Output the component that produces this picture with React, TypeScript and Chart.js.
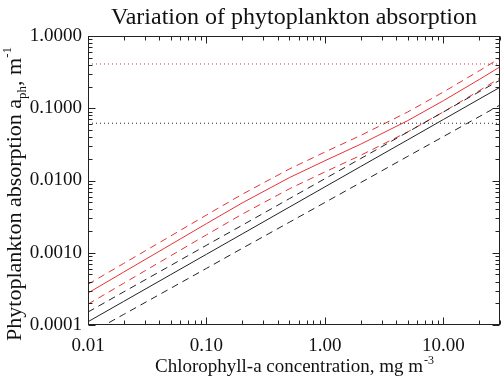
import React, { useEffect, useRef } from 'react';
import { Chart, registerables } from 'chart.js';

Chart.register(...registerables);

// Chlorophyll-a concentration (mg m^-3)
const chlValues = [0.01, 0.02, 0.05, 0.1, 0.2, 0.5, 1, 2, 5, 10, 20, 30];

// Phytoplankton absorption (m^-1)
const redMean = [2.77e-4, 5.4e-4, 1.3e-3, 2.53e-3, 4.89e-3, 0.01094, 0.0188, 0.0318, 0.0675, 0.1274, 0.2495, 0.374];
const redUpper = [3.66e-4, 7.11e-4, 1.71e-3, 3.33e-3, 6.44e-3, 0.01442, 0.02477, 0.042, 0.0889, 0.168, 0.329, 0.493];
const redLower = [1.94e-4, 3.78e-4, 9.1e-4, 1.77e-3, 3.42e-3, 7.66e-3, 0.01315, 0.0223, 0.0472, 0.0891, 0.1746, 0.262];
const blackMean = [1.11e-4, 2.12e-4, 4.99e-4, 9.53e-4, 1.82e-3, 4.28e-3, 8.17e-3, 0.0156, 0.0366, 0.07, 0.1337, 0.195];
const blackUpper = [1.51e-4, 2.87e-4, 6.68e-4, 1.27e-3, 2.4e-3, 5.6e-3, 0.0106, 0.0201, 0.0469, 0.0889, 0.169, 0.245];
const blackLower = [7.45e-5, 1.4e-4, 3.23e-4, 6.08e-4, 1.15e-3, 2.64e-3, 4.97e-3, 9.35e-3, 0.0216, 0.0406, 0.0764, 0.111];

// Horizontal reference levels
const redLevel = 0.41;
const blackLevel = 0.062;

// Axis ranges and labelled ticks
const xRange = [0.01, 30];
const yRange = [0.0001, 1];
const xTickValues = [0.01, 0.1, 1, 10];
const xTickLabels = ['0.01', '0.10', '1.00', '10.00'];
const yTickValues = [0.0001, 0.001, 0.01, 0.1, 1];
const yTickLabels = ['0.0001', '0.0010', '0.0100', '0.1000', '1.0000'];

const titleText = 'Variation of phytoplankton absorption';
const FONT = '"Liberation Serif", "Times New Roman", serif';
const RED = 'rgb(232, 50, 50)';
const BLACK = '#222222';

function labelFor(value: number, values: number[], labels: string[]) {
  for (let i = 0; i < values.length; i++) {
    if (Math.abs(value - values[i]) <= values[i] * 1e-6) return labels[i];
  }
  return '';
}

function pts(ys: number[]) {
  return chlValues.map((x, i) => ({ x, y: ys[i] }));
}

const decorPlugin = {
  id: 'decor',
  afterDraw(chart: any) {
    const { ctx, chartArea: a, scales } = chart;
    const xs = scales.x;
    const ys = scales.y;
    ctx.save();
    ctx.strokeStyle = BLACK;
    ctx.lineWidth = 1;
    ctx.setLineDash([]);
    const L = Math.round(a.left) + 0.5;
    const R = Math.round(a.right) - 0.5;
    const T = Math.round(a.top) + 0.5;
    const B = Math.round(a.bottom) - 0.5;
    ctx.strokeRect(L, T, R - L, B - T);
    ctx.beginPath();
    for (let d = -2; d <= 1; d++) {
      for (let m = 1; m <= 9; m++) {
        const v = m * Math.pow(10, d);
        if (v < xRange[0] * 0.9999 || v > xRange[1] * 1.0001) continue;
        const p = Math.round(xs.getPixelForValue(v)) + 0.5;
        const len = m === 1 ? 7 : 4;
        ctx.moveTo(p, B); ctx.lineTo(p, B - len);
        ctx.moveTo(p, T); ctx.lineTo(p, T + len);
      }
    }
    for (let d = -4; d <= 0; d++) {
      for (let m = 1; m <= 9; m++) {
        const v = m * Math.pow(10, d);
        if (v < yRange[0] * 0.9999 || v > yRange[1] * 1.0001) continue;
        const p = Math.round(ys.getPixelForValue(v)) + 0.5;
        const len = m === 1 ? 7 : 4;
        ctx.moveTo(L, p); ctx.lineTo(L + len, p);
        ctx.moveTo(R, p); ctx.lineTo(R - len, p);
      }
    }
    ctx.stroke();

    const cx = (a.left + a.right) / 2;
    ctx.fillStyle = '#111';
    // Title
    ctx.font = `24px ${FONT}`;
    ctx.textAlign = 'center';
    ctx.textBaseline = 'alphabetic';
    ctx.fillText(titleText, cx, 24);

    // X axis title with superscript
    ctx.textAlign = 'left';
    const xMain = 'Chlorophyll-a concentration, mg m';
    const xSup = '-3';
    ctx.font = `19px ${FONT}`;
    const w1 = ctx.measureText(xMain).width;
    ctx.font = `12px ${FONT}`;
    const w2 = ctx.measureText(xSup).width;
    const x0 = cx - (w1 + w2) / 2;
    ctx.font = `19px ${FONT}`;
    ctx.fillText(xMain, x0, 372);
    ctx.font = `12px ${FONT}`;
    ctx.fillText(xSup, x0 + w1 + 1, 364);

    // Y axis title, rotated, with subscript and superscript
    const segs = [
      { t: 'Phytoplankton absorption a', size: 22, dy: 0 },
      { t: 'ph', size: 13, dy: 5 },
      { t: ', m', size: 22, dy: 0 },
      { t: '-1', size: 13, dy: -10 },
    ];
    let total = 0;
    const widths: number[] = [];
    for (const s of segs) {
      ctx.font = `${s.size}px ${FONT}`;
      const w = ctx.measureText(s.t).width;
      widths.push(w);
      total += w;
    }
    ctx.translate(21, 194);
    ctx.rotate(-Math.PI / 2);
    let px = -total / 2;
    segs.forEach((s, i) => {
      ctx.font = `${s.size}px ${FONT}`;
      ctx.fillText(s.t, px, s.dy);
      px += widths[i];
    });
    ctx.restore();
  },
};

export default function App() {
  const ref = useRef<HTMLCanvasElement | null>(null);
  useEffect(() => {
    if (!ref.current) return;
    const lineDs = (label: string, data: number[], color: string, dash: number[]) => ({
      label,
      data: pts(data),
      borderColor: color,
      borderWidth: 1,
      borderDash: dash,
      pointRadius: 0,
      fill: false,
      tension: 0,
    });
    const chart = new Chart(ref.current, {
      type: 'line',
      data: {
        datasets: [
          {
            label: 'black level',
            data: [{ x: xRange[0], y: blackLevel }, { x: xRange[1], y: blackLevel }],
            borderColor: BLACK, borderWidth: 1, borderDash: [1, 3], pointRadius: 0,
          },
          {
            label: 'red level',
            data: [{ x: xRange[0], y: redLevel }, { x: xRange[1], y: redLevel }],
            borderColor: RED, borderWidth: 1, borderDash: [1, 3], pointRadius: 0,
          },
          lineDs('black lower', blackLower, BLACK, [7, 5]),
          lineDs('black upper', blackUpper, BLACK, [7, 5]),
          lineDs('black mean', blackMean, BLACK, []),
          lineDs('red lower', redLower, RED, [7, 5]),
          lineDs('red upper', redUpper, RED, [7, 5]),
          lineDs('red mean', redMean, RED, []),
        ] as any,
      },
      options: {
        animation: false,
        responsive: false,
        events: [],
        layout: { padding: { top: 36, right: 3, left: 0, bottom: 0 } },
        plugins: {
          legend: { display: false },
          title: { display: false },
          tooltip: { enabled: false },
        },
        scales: {
          x: {
            type: 'logarithmic',
            min: xRange[0],
            max: xRange[1],
            grid: { display: false, drawTicks: false },
            border: { display: false },
            ticks: {
              autoSkip: false,
              maxRotation: 0,
              minRotation: 0,
              padding: 10,
              color: '#111',
              font: { family: FONT, size: 19 },
              callback: (v: any) => labelFor(Number(v), xTickValues, xTickLabels),
            },
            afterFit: (s: any) => {
              s.height = 56;
              s.paddingLeft = 0;
              s.paddingRight = 0;
            },
          },
          y: {
            type: 'logarithmic',
            min: yRange[0],
            max: yRange[1],
            grid: { display: false, drawTicks: false },
            border: { display: false },
            ticks: {
              autoSkip: false,
              padding: 6,
              color: '#111',
              font: { family: FONT, size: 19 },
              callback: (v: any) => labelFor(Number(v), yTickValues, yTickLabels),
            },
            afterFit: (s: any) => {
              s.width = 88;
              s.paddingTop = 0;
              s.paddingBottom = 0;
            },
          },
        },
      } as any,
      plugins: [decorPlugin],
    });
    return () => chart.destroy();
  }, []);
  return (
    <div style={{ position: 'absolute', left: 0, top: 0, width: 503, height: 381 }}>
      <canvas ref={ref} width={503} height={381} style={{ display: 'block' }} />
    </div>
  );
}
